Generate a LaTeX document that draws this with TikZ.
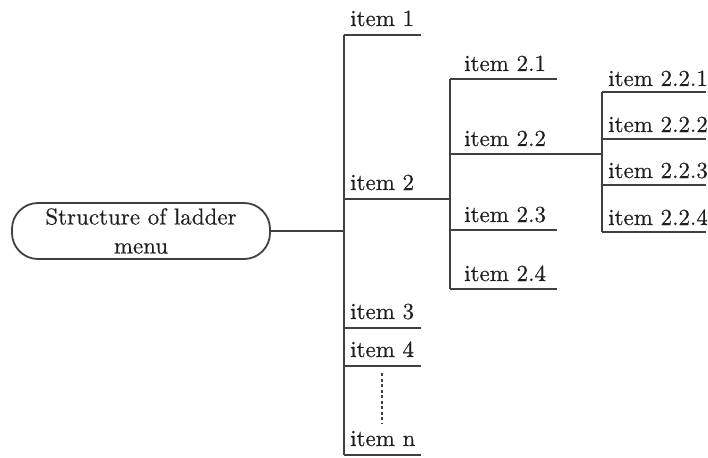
\documentclass[tikz,border=0pt]{standalone}
\usepackage{fontspec}
\newfontfamily\lmten{lmroman10-regular.otf}[FakeBold=0.4]
\usetikzlibrary{calc}
\definecolor{linegray}{RGB}{64,64,64}
\definecolor{textgray}{RGB}{30,30,30}
\begin{document}
\begin{tikzpicture}[x=1pt,y=-1pt,
  ln/.style={line width=1.8pt, draw=linegray},
  lbl/.style={anchor=base west, inner sep=0pt, font=\lmten\fontsize{23}{28}\selectfont, text=textgray},
  rootbox/.style={draw=linegray, line width=1.8pt, rounded corners=26pt, minimum width=258pt, minimum height=56pt, align=center, inner sep=0pt, font=\lmten\fontsize{23}{29}\selectfont, text=textgray}]
\useasboundingbox (0,0) rectangle (708,457);
% root
\node[rootbox] (root) at (141,231) {Structure of ladder\\menu};
% level 1 trunk
\coordinate (ta) at (344,35);
\coordinate (tb) at (344,455);
\coordinate (tr) at (344,231);
\draw[ln] (root.east) -- (tr);
\draw[ln] (ta) -- (tb);
% level 1 items
\coordinate (e1) at (421,35);
\coordinate (t2) at (344,199);
\coordinate (u2) at (450,199);
\coordinate (t3) at (344,328);
\coordinate (e3) at (421,328);
\coordinate (t4) at (344,366);
\coordinate (e4) at (421,366);
\coordinate (tn) at (344,455);
\coordinate (en) at (421,455);
\draw[ln] (ta) -- (e1);
\draw[ln] (t2) -- (u2);
\draw[ln] (t3) -- (e3);
\draw[ln] (t4) -- (e4);
\draw[ln] (tn) -- (en);
\node[lbl] (l1) at (350,26) {item 1};
\node[lbl] (l2) at (350,190) {item 2};
\node[lbl] (l3) at (350,319) {item 3};
\node[lbl] (l4) at (350,357) {item 4};
\node[lbl] (ln) at (350,446) {item n};
\coordinate (d1) at (382,373);
\coordinate (d2) at (382,424);
\draw[ln, line width=1.5pt, dash pattern=on 3pt off 2.5pt] (d1) -- (d2);
% level 2 trunk
\coordinate (sa) at (450,79);
\coordinate (sb) at (450,289);
\draw[ln] (sa) -- (sb);
\coordinate (f21) at (557,79);
\coordinate (s22) at (450,154);
\coordinate (v22) at (602,154);
\coordinate (s23) at (450,230);
\coordinate (f23) at (557,230);
\coordinate (f24) at (557,289);
\draw[ln] (sa) -- (f21);
\draw[ln] (s22) -- (v22);
\draw[ln] (s23) -- (f23);
\draw[ln] (sb) -- (f24);
\node[lbl] (l21) at (464,71) {item 2.1};
\node[lbl] (l22) at (464,146) {item 2.2};
\node[lbl] (l23) at (464,222) {item 2.3};
\node[lbl] (l24) at (464,281) {item 2.4};
% level 3 trunk
\coordinate (ra) at (602,92);
\coordinate (rb) at (602,232);
\draw[ln] (ra) -- (rb);
\coordinate (g1) at (706,92);
\coordinate (r2) at (602,139);
\coordinate (g2) at (706,139);
\coordinate (r3) at (602,185);
\coordinate (g3) at (706,185);
\coordinate (g4) at (706,232);
\draw[ln] (ra) -- (g1);
\draw[ln] (r2) -- (g2);
\draw[ln] (r3) -- (g3);
\draw[ln] (rb) -- (g4);
\node[lbl] (l221) at (608,86) {item 2.2.1};
\node[lbl] (l222) at (608,132) {item 2.2.2};
\node[lbl] (l223) at (608,178) {item 2.2.3};
\node[lbl] (l224) at (608,225) {item 2.2.4};
\end{tikzpicture}
\end{document}
